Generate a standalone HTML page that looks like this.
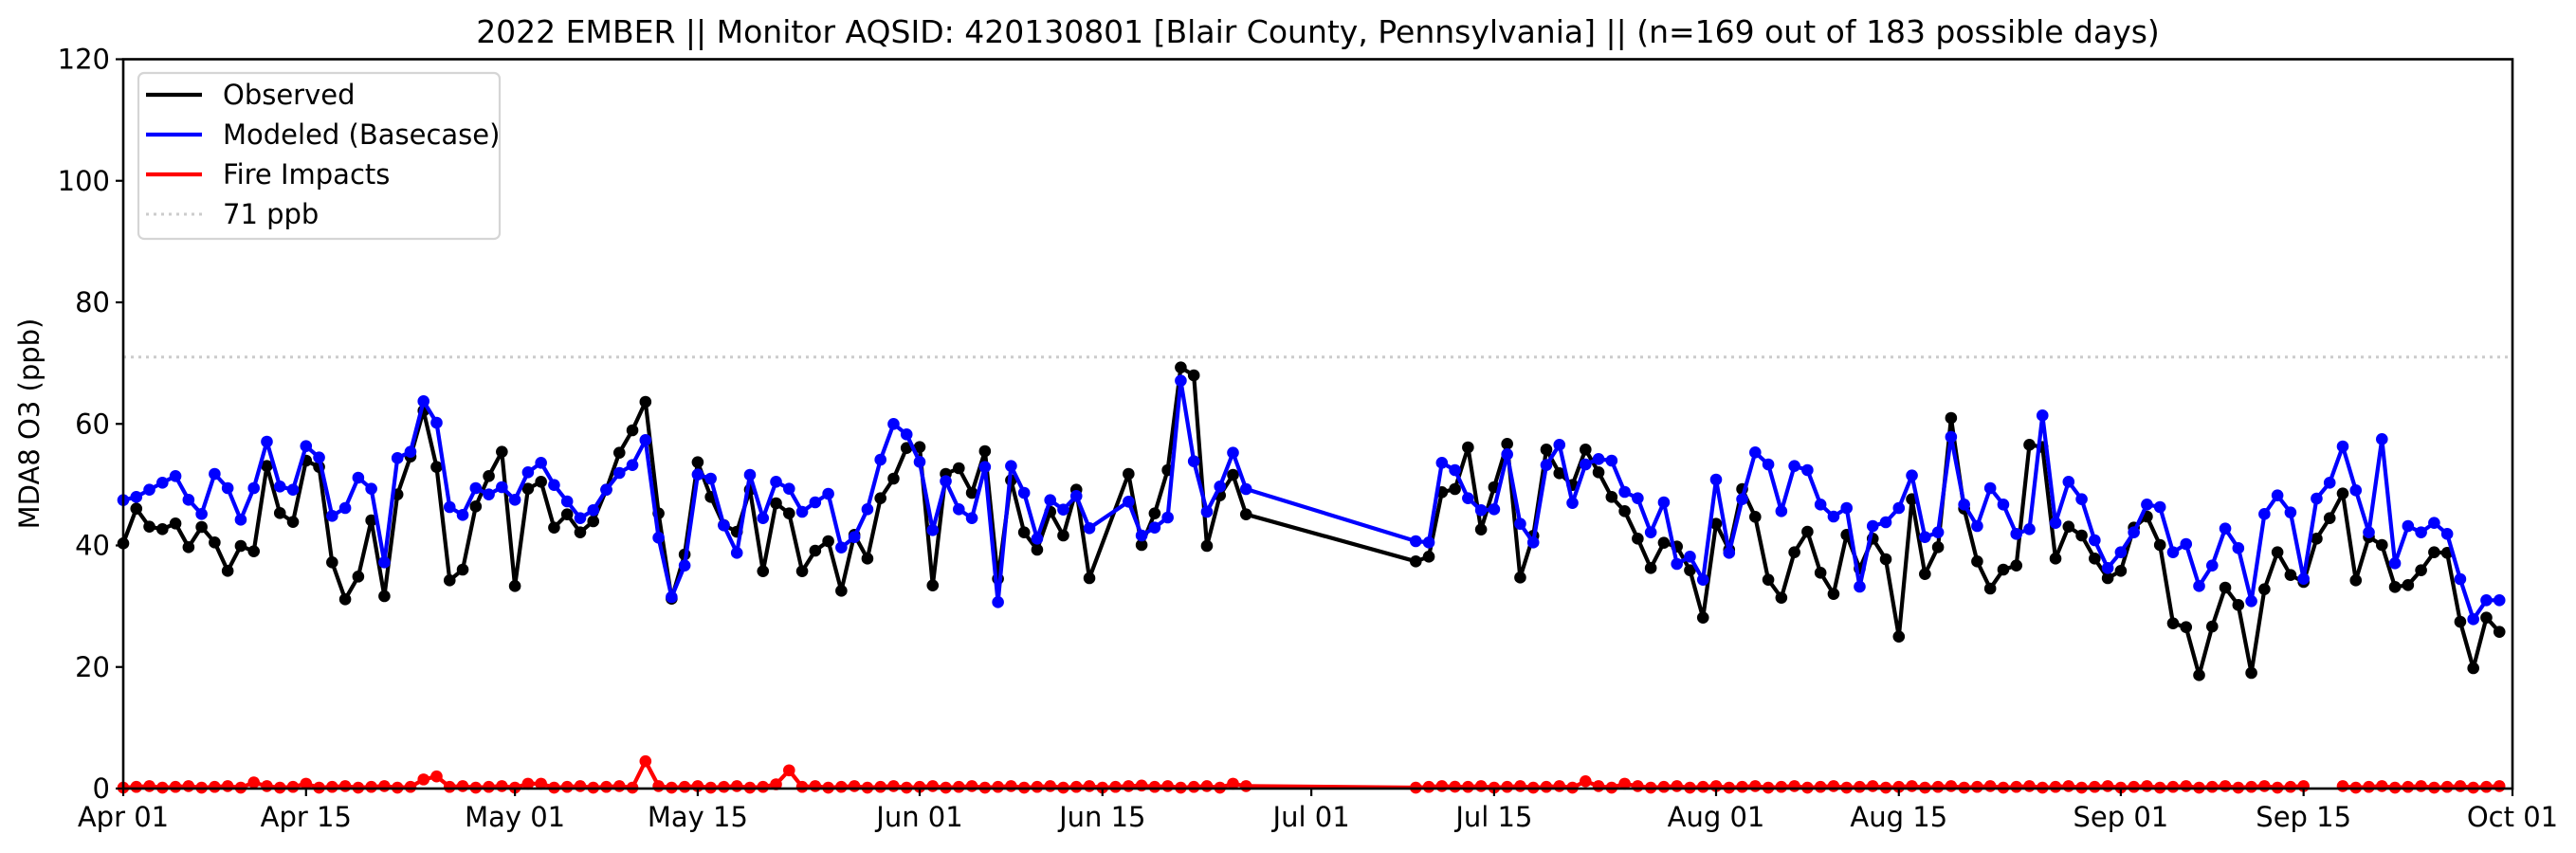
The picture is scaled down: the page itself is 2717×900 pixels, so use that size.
<!DOCTYPE html>
<html><head><meta charset="utf-8"><style>
html,body{margin:0;padding:0;background:#fff;}
svg{display:block;font-family:"DejaVu Sans","Liberation Sans",sans-serif;}
</style></head><body>
<svg id="s" width="2717" height="900" viewBox="0 0 2717 900" xmlns="http://www.w3.org/2000/svg">
<text x="1390" y="45" font-size="33" text-anchor="middle">2022 EMBER || Monitor AQSID: 420130801 [Blair County, Pennsylvania] || (n=169 out of 183 possible days)</text>
<g id="g"></g>
</svg>
<script>
var L=130,R=2650,T=62.5,B=832,PD=(R-L)/183,PP=(B-T)/120;
function X(d){return L+d*PD;}function Y(v){return B-v*PP;}
var Z=[
 {x0:97,sx:2.45,y0:380,
  k:[[85,580],[118,470],[152,527],[186,535],[222,517],[254,592],[288,528],[322,577],[356,667],[388,588],[422,605],[456,335],[490,484],[522,512],[558,318],[592,338],[625,640],[660,757],[692,685],[726,507],[760,747],[795,425],[828,305],[860,160],[895,338],[929,697],[962,663],[995,463],[1029,367],[1065,290],[1098,715],[1130,407],[1165,385],[1198,530],[1233,488],[1265,545],[1298,510],[1333,410],[1367,293],[1400,222],[1434,132],[1468,485],[1500,755],[1535,615],[1566,323]],
  b:[[85,443],[118,433],[152,410],[186,388],[222,367],[254,442],[288,487],[322,360],[356,405],[388,505],[422,405],[456,258],[490,400],[522,410],[558,272],[592,308],[625,493],[660,468],[692,372],[726,407],[760,640],[795,310],[828,290],[860,130],[895,198],[929,465],[962,490],[995,405],[1029,425],[1065,402],[1098,442],[1130,355],[1165,325],[1198,395],[1233,447],[1265,500],[1298,475],[1333,410],[1367,357],[1400,332],[1434,253],[1468,562],[1500,750],[1535,650],[1566,362]]},
 {x0:730,sx:2.45,y0:360,
  k:[[50,493],[85,582],[120,603],[152,470],[186,728],[221,513],[256,545],[287,728],[322,663],[356,633],[390,790],[425,613],[456,688],[490,497],[524,435],[558,338],[592,335],[625,773],[658,420],[694,402],[727,480],[760,348],[794,752],[828,440],[862,605],[895,660],[930,540],[964,615],[997,470],[1030,750],[1132,420],[1166,645],[1199,545],[1232,408],[1266,83],[1301,108],[1333,648],[1368,488],[1403,423],[1436,548]],
  b:[[50,435],[85,583],[120,670],[152,423],[186,560],[221,445],[256,467],[287,540],[322,510],[356,483],[390,653],[425,620],[456,532],[490,375],[524,262],[558,295],[592,382],[625,598],[658,443],[694,532],[727,560],[760,398],[794,826],[828,395],[862,480],[895,625],[930,503],[964,533],[997,490],[1030,592],[1130,508],[1166,615],[1199,590],[1232,558],[1266,125],[1301,380],[1333,540],[1368,460],[1403,353],[1436,468]]},
 {x0:1470,sx:2.613,y0:380,
  k:[[65,637],[100,622],[137,418],[172,408],[208,276],[246,536],[279,402],[316,265],[352,688],[390,556],[424,283],[460,358],[496,395],[533,283],[568,355],[604,433],[640,478],[678,565],[713,658],[748,578],[786,590],[820,665],[856,815],[891,518],[927,600],[964,408],[1001,496],[1037,695],[1071,752],[1108,608],[1145,543],[1181,673],[1215,740],[1250,553],[1290,660],[1326,565],[1360,630],[1396,875],[1432,440],[1468,677],[1505,592],[1540,183]],
  b:[[65,573],[100,577],[137,325],[172,348],[208,437],[246,475],[279,472],[316,298],[352,518],[390,577],[424,332],[460,268],[496,452],[533,330],[568,313],[604,318],[640,417],[678,437],[713,545],[748,450],[786,645],[820,622],[856,695],[891,378],[927,610],[964,440],[1001,292],[1037,330],[1071,478],[1108,335],[1145,348],[1181,457],[1215,495],[1250,468],[1290,717],[1326,525],[1360,513],[1396,468],[1432,365],[1468,560],[1505,545],[1540,243]]},
 {x0:2040,sx:2.57,y0:400,
  k:[[85,410],[122,577],[158,663],[192,603],[228,590],[263,208],[297,215],[332,568],[368,467],[404,495],[440,568],[476,630],[511,607],[546,470],[582,435],[618,525],[651,773],[688,785],[723,937],[760,783],[793,660],[829,715],[865,930],[901,665],[936,548],[970,620],[1006,642],[1042,505],[1077,440],[1111,362],[1147,637],[1182,500],[1219,525],[1253,658],[1290,652],[1325,605],[1360,548],[1396,550],[1431,768],[1466,915],[1502,755],[1538,800]],
  b:[[85,397],[122,465],[158,345],[192,397],[228,490],[263,475],[297,115],[332,455],[368,325],[404,380],[440,510],[476,598],[511,548],[546,485],[582,397],[618,405],[651,548],[688,522],[723,655],[760,590],[793,473],[829,535],[865,703],[901,427],[936,368],[970,422],[1006,632],[1042,378],[1077,328],[1111,213],[1147,352],[1182,485],[1219,190],[1253,583],[1290,465],[1325,485],[1360,455],[1396,490],[1431,633],[1466,760],[1502,700],[1538,700]]}
];
function conv(key){var out=[];Z.forEach(function(z){z[key].forEach(function(p){var rx=z.x0+p[0]/z.sx,ry=z.y0+p[1]/3;var d=Math.round((rx-L)/PD);out.push([X(d),ry]);});});return out;}
var ns="http://www.w3.org/2000/svg",g=document.getElementById('g');
function el(t,a,txt){var e=document.createElementNS(ns,t);for(var k in a)e.setAttribute(k,a[k]);if(txt!==undefined)e.textContent=txt;g.appendChild(e);return e;}
function series(pts,c,dots){el('polyline',{points:pts.map(function(p){return p[0].toFixed(1)+','+p[1].toFixed(1)}).join(' '),fill:'none',stroke:c,'stroke-width':4.2,'stroke-linejoin':'round'});if(dots!==false)pts.forEach(function(p){el('circle',{cx:p[0],cy:p[1],r:6.3,fill:c});});}
el('line',{x1:L,x2:R,y1:Y(71),y2:Y(71),stroke:'#cccccc','stroke-width':3,'stroke-dasharray':'3,5'});
var spikes={10:1,14:0.8,23:1.5,24:2,31:0.8,32:0.8,40:4.5,50:0.7,51:3,85:0.8,78:0.5,112:1.2,115:0.8,102:0.3};
var fire=[];function addR(a,b){for(var d=a;d<=b;d++){var v=spikes[d]!==undefined?spikes[d]:(0.15+0.25*((d*7)%3)/2);fire.push([X(d),Y(v)]);}}
addR(0,86);addR(99,167);var f1=fire.slice();fire=[];addR(170,182);
series(f1,'#ff0000');series(fire,'#ff0000');
series(conv('k'),'#000000');series(conv('b'),'#0000ff');
el('rect',{x:L,y:T,width:R-L,height:B-T,fill:'none',stroke:'#000','stroke-width':2.6});
for(var v=0;v<=120;v+=20){el('line',{x1:L-8,x2:L,y1:Y(v),y2:Y(v),stroke:'#000','stroke-width':2.2});el('text',{x:L-14,y:Y(v)+10,'font-size':29,'text-anchor':'end'},String(v));}
var xt=[[0,'Apr 01'],[14,'Apr 15'],[30,'May 01'],[44,'May 15'],[61,'Jun 01'],[75,'Jun 15'],[91,'Jul 01'],[105,'Jul 15'],[122,'Aug 01'],[136,'Aug 15'],[153,'Sep 01'],[167,'Sep 15'],[183,'Oct 01']];
xt.forEach(function(t){el('line',{x1:X(t[0]),x2:X(t[0]),y1:B,y2:B+8,stroke:'#000','stroke-width':2.2});el('text',{x:X(t[0]),y:872,'font-size':29,'text-anchor':'middle'},t[1]);});
el('text',{x:0,y:0,'font-size':29,'text-anchor':'middle',transform:'translate(41,447) rotate(-90)'},'MDA8 O3 (ppb)');
el('rect',{x:146,y:77,width:381,height:175,rx:6,fill:'#fff','fill-opacity':0.8,stroke:'#d5d5d5','stroke-width':2.2});
var lg=[['Observed','#000',''],['Modeled (Basecase)','#0000ff',''],['Fire Impacts','#ff0000',''],['71 ppb','#cccccc','3,5']];
lg.forEach(function(l,i){var y=100+i*42;var a={x1:154,x2:213,y1:y,y2:y,stroke:l[1],'stroke-width':l[2]?3:4.2};if(l[2])a['stroke-dasharray']=l[2];el('line',a);el('text',{x:235,y:y+10,'font-size':29},l[0]);});
</script>
</body></html>
